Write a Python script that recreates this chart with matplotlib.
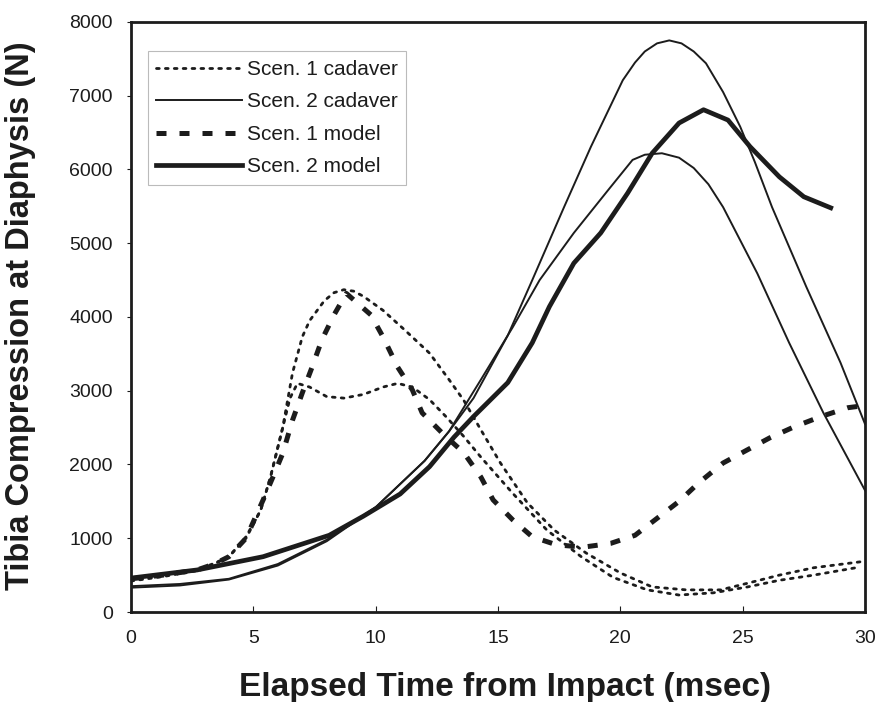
import matplotlib
matplotlib.use("Agg")
import matplotlib.pyplot as plt

# ---- data ----
# Scen. 1 cadaver (two dotted tests)
t_cad1a = [0, 1.3, 2.7, 3.4, 4.0, 4.7, 5.3, 5.7, 6.2, 6.6, 7.0, 7.3, 7.9, 8.3, 8.7, 9.1,
           9.5, 10.3, 11.2, 12.2, 13.0, 13.6, 14.3, 15.1, 16.2, 17.3, 18.6, 20.0, 21.3,
           22.7, 24.1, 25.2, 26.5, 27.9, 29.8]
f_cad1a = [450, 500, 570, 660, 750, 1020, 1380, 1830, 2500, 3240, 3730, 3950, 4220, 4330,
           4370, 4350, 4280, 4090, 3820, 3510, 3150, 2870, 2470, 2020, 1480, 1110, 800,
           530, 340, 300, 300, 390, 500, 600, 680]
t_cad1b = [0, 1.3, 2.7, 3.4, 4.0, 4.7, 5.3, 5.7, 6.2, 6.5, 6.8, 7.3, 8.0, 8.7, 9.5, 10.3,
           10.9, 11.5, 12.2, 12.9, 13.6, 14.3, 15.6, 17.0, 18.4, 19.7, 21.1, 22.4, 23.8,
           25.2, 26.5, 27.9, 29.8]
f_cad1b = [420, 480, 560, 650, 750, 1000, 1380, 1830, 2500, 2900, 3100, 3050, 2920, 2900,
           2950, 3050, 3100, 3050, 2880, 2640, 2380, 2100, 1610, 1110, 750, 470, 300, 230,
           260, 340, 430, 500, 610]

# Scen. 2 cadaver (two thin solid tests)
t_cad2a = [0, 2, 4, 6, 8, 10, 12, 13, 14, 15.4, 16.4, 17.7, 18.8, 20.1, 20.6, 21.0, 21.5,
           22.0, 22.5, 23.0, 23.5, 24.2, 24.9, 25.5, 26.2, 27.6, 29.0, 30]
f_cad2a = [350, 380, 450, 650, 980, 1420, 2050, 2450, 2900, 3750, 4500, 5490, 6310, 7210,
           7450, 7600, 7710, 7750, 7710, 7600, 7440, 7050, 6580, 6100, 5490, 4410, 3380,
           2550]
t_cad2b = [0, 2, 4, 6, 8, 10, 12, 13, 14.3, 15.6, 16.7, 18.1, 19.5, 20.5, 21.0, 21.7,
           22.4, 23.0, 23.6, 24.2, 25.6, 26.9, 28.3, 30]
f_cad2b = [330, 360, 440, 630, 960, 1420, 2050, 2450, 3150, 3860, 4500, 5140, 5720, 6130,
           6200, 6220, 6160, 6020, 5800, 5490, 4590, 3650, 2700, 1650]

# Scen. 1 model (dashed)
t_mod1 = [0, 1.3, 2.7, 3.4, 4.0, 4.7, 5.4, 5.8, 6.2, 6.6, 7.0, 7.4, 7.8, 8.3, 8.8, 9.8,
          10.3, 10.9, 11.5, 11.9, 12.8, 13.6, 14.3, 14.8, 15.6, 16.4, 17.4, 18.5, 19.6,
          20.6, 21.5, 22.4, 23.2, 24.2, 25.2, 26.1, 27.1, 28.2, 29.3, 30]
f_mod1 = [450, 500, 570, 650, 750, 1000, 1520, 1830, 2150, 2600, 2970, 3320, 3690, 4030,
          4320, 4030, 3730, 3320, 3010, 2700, 2400, 2160, 1830, 1520, 1250, 1020, 910, 880,
          930, 1040, 1270, 1500, 1750, 2020, 2200, 2360, 2510, 2650, 2770, 2800]

# Scen. 2 model (thick solid)
t_mod2 = [0, 2.7, 5.4, 8.1, 9.5, 11.0, 12.2, 13.2, 14.0, 15.4, 16.4, 17.1, 18.1, 19.2,
          20.3, 20.8, 21.3, 22.4, 23.4, 24.4, 25.3, 26.5, 27.5, 28.6]
f_mod2 = [460, 570, 750, 1040, 1300, 1600, 1970, 2370, 2650, 3110, 3650, 4140, 4730, 5140,
          5680, 5950, 6220, 6630, 6810, 6670, 6310, 5900, 5630, 5480]

labels = ["Scen. 1 cadaver", "Scen. 2 cadaver", "Scen. 1 model", "Scen. 2 model"]
x_ticks = [0, 5, 10, 15, 20, 25, 30]
y_ticks = [0, 1000, 2000, 3000, 4000, 5000, 6000, 7000, 8000]

# ---- figure ----
plt.rcParams['font.family'] = ['Liberation Sans', 'DejaVu Sans']
fig = plt.figure(figsize=(8.77, 7.02), dpi=100)
ax = fig.add_axes([0.1494, 0.1282, 0.8369, 0.8405])

ink = "#1c1c1c"
dot_kw = dict(color=ink, lw=2.0, linestyle=(0, (1, 2.2)), dash_capstyle="round")
l1, = ax.plot(t_cad1a, f_cad1a, label=labels[0], **dot_kw)
ax.plot(t_cad1b, f_cad1b, **dot_kw)
l2, = ax.plot(t_cad2a, f_cad2a, color=ink, lw=1.4, label=labels[1])
ax.plot(t_cad2b, f_cad2b, color=ink, lw=1.4)
l3, = ax.plot(t_mod1, f_mod1, color=ink, lw=3.6, linestyle=(0, (2.0, 2.6)), label=labels[2])
l4, = ax.plot(t_mod2, f_mod2, color=ink, lw=3.4, label=labels[3])

ax.set_xlim(0, 30)
ax.set_ylim(0, 8000)
ax.set_xticks(x_ticks)
ax.set_yticks(y_ticks)
ax.tick_params(axis="x", direction="in", length=4, labelsize=14, pad=13, colors=ink)
ax.tick_params(axis="y", direction="out", length=3, labelsize=14, pad=10, colors=ink)
for s in ax.spines.values():
    s.set_linewidth(2.0)
    s.set_color(ink)

ax.set_xlabel("Elapsed Time from Impact (msec)", fontsize=24, fontweight="bold",
              color=ink)
ax.set_ylabel("Tibia Compression at Diaphysis (N)", fontsize=23.5, fontweight="bold",
              color=ink)
ax.xaxis.set_label_coords(0.5095, -0.101)
ax.yaxis.set_label_coords(-0.129, 0.503)

leg = ax.legend(handles=[l1, l2, l3, l4], loc="upper left",
                bbox_to_anchor=(0.0232, 0.950), borderaxespad=0, fontsize=15,
                frameon=True, fancybox=False, edgecolor="#aaaaaa", handlelength=4.1,
                handletextpad=0.25, labelspacing=0.65, borderpad=0.4)
leg.get_frame().set_linewidth(0.8)
for txt in leg.get_texts():
    txt.set_color(ink)

fig.savefig("out.png", dpi=100)
